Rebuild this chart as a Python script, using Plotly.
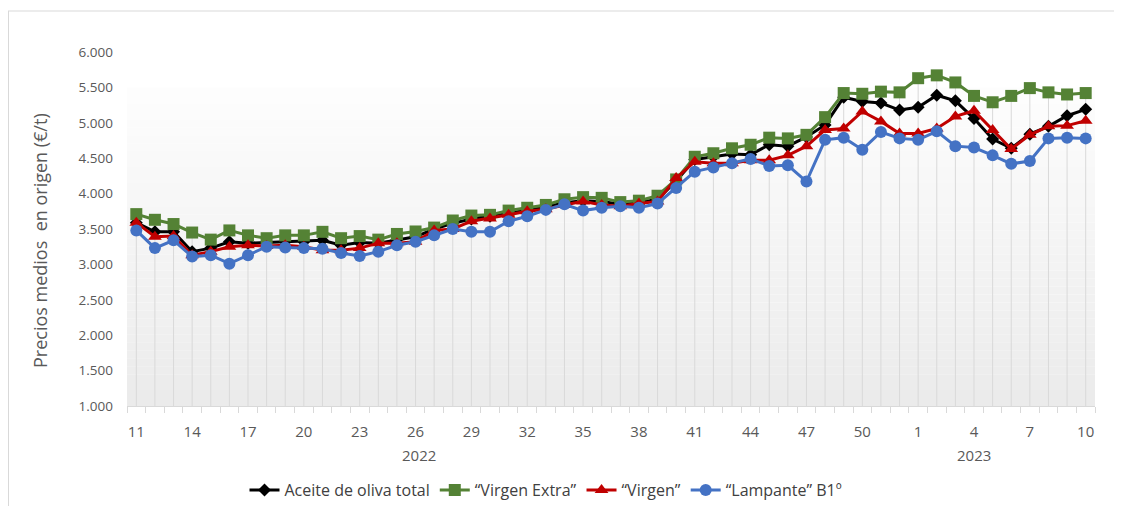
import plotly.graph_objects as go
import numpy as np

weeks = [str(w) for w in range(11, 53)] + [str(w) for w in range(1, 11)]
years = ["2022", "2023"]

total = [3590, 3460, 3460, 3180, 3230, 3320, 3300, 3310, 3320, 3320, 3340, 3270, 3310, 3300, 3350, 3390,
         3500, 3580, 3640, 3680, 3720, 3770, 3810, 3870, 3900, 3890, 3850, 3870, 3920, 4180, 4480, 4520,
         4560, 4550, 4690, 4670, 4800, 4970, 5360, 5300, 5280, 5180, 5220, 5390, 5310, 5060, 4770, 4640,
         4840, 4950, 5100, 5190]
virgen_extra = [3710, 3630, 3570, 3450, 3350, 3480, 3410, 3370, 3410, 3410, 3460, 3370, 3400, 3350, 3430, 3465,
                3520, 3620, 3690, 3700, 3760, 3800, 3840, 3920, 3950, 3940, 3880, 3900, 3970, 4200, 4520, 4570,
                4640, 4690, 4790, 4780, 4830, 5080, 5420, 5410, 5440, 5430, 5630, 5670, 5570, 5380, 5290, 5380,
                5490, 5430, 5400, 5420]
virgen = [3590, 3390, 3400, 3130, 3180, 3250, 3270, 3260, 3270, 3250, 3200, 3200, 3230, 3300, 3300, 3320,
          3480, 3500, 3610, 3650, 3700, 3750, 3780, 3840, 3890, 3840, 3820, 3860, 3890, 4220, 4450, 4430,
          4430, 4470, 4470, 4540, 4670, 4900, 4920, 5160, 5020, 4850, 4850, 4920, 5090, 5170, 4900, 4630,
          4830, 4950, 4960, 5030]
lampante = [3480, 3230, 3340, 3110, 3130, 3010, 3130, 3250, 3240, 3230, 3220, 3160, 3120, 3180, 3270, 3320,
            3410, 3500, 3460, 3460, 3610, 3680, 3770, 3850, 3760, 3800, 3820, 3800, 3860, 4080, 4310, 4370,
            4430, 4490, 4390, 4400, 4170, 4760, 4790, 4620, 4870, 4780, 4760, 4880, 4670, 4650, 4540, 4420,
            4460, 4780, 4790, 4780]

names = ["Aceite de oliva total", "“Virgen Extra”", "“Virgen”", "“Lampante” B1º"]
series = [total, virgen_extra, virgen, lampante]
colors = ["#000000", "#548235", "#C00000", "#4472C4"]
symbols = ["diamond", "square", "triangle-up", "circle"]
msizes = [10, 12, 12, 12]

x = list(range(len(weeks)))
ymin = 1000

fig = go.Figure()

# drop lines from the highest series down to the axis
top = np.max(np.array(series), axis=0)
dx, dy = [], []
for i, v in zip(x, top):
    dx += [i, i, None]
    dy += [ymin, v, None]
fig.add_trace(go.Scatter(x=dx, y=dy, mode="lines", line=dict(color="#d9d9d9", width=1),
                         hoverinfo="skip", showlegend=False))

for name, s, c, sym, ms in zip(names, series, colors, symbols, msizes):
    fig.add_trace(go.Scatter(x=x, y=s, name=name, mode="lines+markers",
                             line=dict(color=c, width=3),
                             marker=dict(symbol=sym, size=ms, color=c)))

# figure is offset by the page's 8px body margin
W, H = 1114, 498
L, T, R, B = 119, 44, 27, 100
PW, PH = W - L - R, H - T - B


def px_x(p):  # reference pixel -> paper x
    return (p - 8 - L) / PW


def px_y(p):  # reference pixel -> paper y
    return (T + PH - (p - 8)) / PH


# gradient background of the plot area
shapes = []
n = 40
top_frac = 0.9
for k in range(n):
    y0 = top_frac * k / n
    y1 = top_frac * (k + 1) / n
    t = k / (n - 1)
    g = int(round(235 + (253 - 235) * t))
    shapes.append(dict(type="rect", xref="x domain", yref="y domain", x0=0, x1=1, y0=y0, y1=y1,
                       fillcolor=f"rgb({g},{g},{g})", line=dict(width=0), layer="below"))
# outer chart border (left and top)
shapes.append(dict(type="line", xref="paper", yref="paper", x0=px_x(8.5), x1=px_x(8.5),
                   y0=px_y(506), y1=px_y(11), line=dict(color="#d9d9d9", width=1)))
shapes.append(dict(type="line", xref="paper", yref="paper", x0=px_x(8), x1=px_x(1122),
                   y0=px_y(11), y1=px_y(11), line=dict(color="#d9d9d9", width=1)))

tickidx = x[::3]
ticktext = [weeks[i] for i in tickidx]

gray = "#595959"
fig.update_layout(
    width=W, height=H,
    margin=dict(l=L, r=R, t=T, b=B, autoexpand=False),
    paper_bgcolor="white", plot_bgcolor="white",
    separators=",.",
    font=dict(family="Open Sans", color=gray),
    shapes=shapes,
    showlegend=True,
    legend=dict(orientation="h", x=px_x(546), xanchor="center", y=px_y(490), yanchor="middle",
                font=dict(size=16, color="#404040"), itemwidth=30, tracegroupgap=0,
                bgcolor="rgba(0,0,0,0)"),
    xaxis=dict(range=[-0.5, len(weeks) - 0.5], tickmode="array", tickvals=tickidx, ticktext=ticktext,
               ticks="", showgrid=False, zeroline=False, showline=True, linecolor="#d9d9d9", linewidth=1,
               tickfont=dict(size=15, color=gray), ticklabelstandoff=12,
               minor=dict(ticks="outside", tick0=-0.5, dtick=1, ticklen=6, tickcolor="#d9d9d9", showgrid=False)),
    yaxis=dict(range=[1000, 6000], dtick=500, tickformat=",d", showgrid=False, zeroline=False,
               showline=False, ticks="", tickfont=dict(size=13.5, color=gray), ticklabelstandoff=13),
    annotations=[
        dict(text="Precios medios  en origen (€/t)", xref="paper", yref="paper",
             x=px_x(40), y=px_y(241), textangle=-90, showarrow=False,
             font=dict(size=18, color=gray), xanchor="center", yanchor="middle"),
        dict(text=years[0], xref="x", yref="paper", x=15.2, y=px_y(455), showarrow=False,
             font=dict(size=15, color=gray), xanchor="center", yanchor="middle"),
        dict(text=years[1], xref="x", yref="paper", x=45.0, y=px_y(455), showarrow=False,
             font=dict(size=15, color=gray), xanchor="center", yanchor="middle"),
    ],
)

fig.write_html("out.html")
